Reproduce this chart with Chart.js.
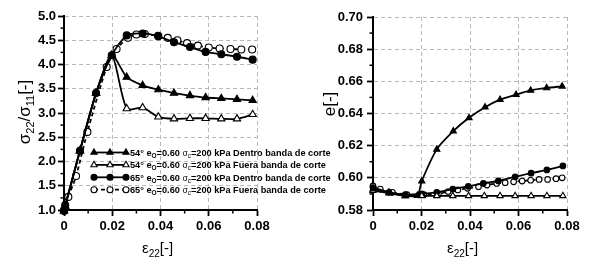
<!DOCTYPE html>
<html>
<head>
<meta charset="utf-8">
<script src="https://cdn.jsdelivr.net/npm/chart.js@4.4.1/dist/chart.umd.min.js"></script>
<style>
  body { margin: 0; background: #fff; }
  #wrap { position: relative; width: 590px; height: 264px; overflow: hidden; }
  canvas { position: absolute; top: 0; }
</style>
</head>
<body>
<div id="wrap">
  <canvas id="ratioChart" width="360" height="264" style="left:0"></canvas>
  <canvas id="voidChart" width="290" height="264" style="left:300px"></canvas>
</div>
<script>
// ---- left panel: sigma22/sigma11 vs strain ----
const r54inX  = [0, 0.0005, 0.0066, 0.0133, 0.0198, 0.026, 0.0326, 0.0391, 0.0456, 0.0522, 0.0587, 0.0652, 0.0717, 0.0782];
const r54inY  = [0.98, 1.08, 2.22, 3.41, 4.19, 3.74, 3.57, 3.48, 3.41, 3.36, 3.32, 3.30, 3.28, 3.26];
const r54outX = [0, 0.0005, 0.0066, 0.0133, 0.0198, 0.026, 0.0326, 0.0391, 0.0456, 0.0522, 0.0587, 0.0652, 0.0717, 0.0782];
const r54outY = [0.98, 1.08, 2.22, 3.41, 4.19, 3.09, 3.11, 2.92, 2.88, 2.89, 2.89, 2.88, 2.88, 2.97];
const r65inX  = [0, 0.0005, 0.0066, 0.0133, 0.0198, 0.026, 0.0326, 0.0391, 0.0456, 0.0522, 0.0587, 0.0652, 0.0717, 0.0782];
const r65inY  = [0.98, 1.1, 2.22, 3.41, 4.19, 4.60, 4.64, 4.58, 4.46, 4.36, 4.26, 4.21, 4.16, 4.10];
const r65outX = [0, 0.0018, 0.005, 0.0097, 0.0177, 0.0218, 0.0265, 0.030, 0.0335, 0.039, 0.043, 0.047, 0.051, 0.0555, 0.060, 0.0645, 0.069, 0.0735, 0.078];
const r65outY = [1.0, 1.27, 1.70, 2.61, 3.95, 4.32, 4.55, 4.62, 4.63, 4.59, 4.55, 4.50, 4.44, 4.39, 4.35, 4.33, 4.32, 4.31, 4.31];

// ---- right panel: void ratio e vs strain ----
const e54inX  = [0, 0.0066, 0.0133, 0.0183, 0.0201, 0.0263, 0.0331, 0.0396, 0.0462, 0.0524, 0.059, 0.065, 0.0716, 0.078];
const e54inY  = [0.593, 0.591, 0.5888, 0.589, 0.598, 0.6177, 0.629, 0.6373, 0.6439, 0.6486, 0.6517, 0.6544, 0.6559, 0.6569];
const e54outX = [0, 0.0066, 0.0133, 0.0201, 0.0263, 0.0329, 0.0394, 0.0459, 0.0524, 0.0586, 0.0652, 0.0717, 0.0783];
const e54outY = [0.592, 0.5905, 0.5888, 0.5888, 0.5888, 0.5888, 0.5888, 0.5888, 0.5888, 0.5888, 0.5888, 0.5888, 0.5888];
const e65inX  = [0, 0.0066, 0.0133, 0.0201, 0.0263, 0.0329, 0.0393, 0.0455, 0.0517, 0.0586, 0.0652, 0.0717, 0.0783];
const e65inY  = [0.594, 0.591, 0.5895, 0.590, 0.591, 0.593, 0.5947, 0.5965, 0.5981, 0.6006, 0.6029, 0.6049, 0.6074];
const e65outX = [0, 0.003, 0.008, 0.014, 0.021, 0.027, 0.031, 0.035, 0.039, 0.0435, 0.047, 0.051, 0.0545, 0.058, 0.0615, 0.065, 0.0685, 0.072, 0.0755, 0.078];
const e65outY = [0.595, 0.593, 0.591, 0.5895, 0.5895, 0.590, 0.5915, 0.5925, 0.5935, 0.5945, 0.5955, 0.5965, 0.597, 0.5975, 0.598, 0.5985, 0.599, 0.599, 0.5995, 0.600];

const seriesLabels = ['Dentro banda de corte', 'Fuera banda de corte', 'Dentro banda de corte', 'Fuera banda de corte'];
const seriesAngles = ['54°', '54°', '65°', '65°'];

const xTicks = [0, 0.02, 0.04, 0.06, 0.08];
const FONT = "'Liberation Sans', Arial, sans-serif";

function pts(xs, ys) {
    return xs.map((x, i) => ({ x: x, y: ys[i] }));
}

// common dataset styles
function makeSets(data, big) {
    const styles = [
        { pointStyle: 'triangle', fill: '#000', dash: [] },
        { pointStyle: 'triangle', fill: '#fff', dash: [] },
        { pointStyle: 'circle', fill: '#000', dash: [] },
        { pointStyle: 'circle', fill: '#fff', dash: [4, 3] }
    ];
    return data.map((d, i) => ({
        label: seriesAngles[i] + ' ' + seriesLabels[i],
        data: d,
        borderColor: '#000',
        borderWidth: 1.8,
        borderDash: styles[i].dash,
        pointStyle: styles[i].pointStyle,
        pointBackgroundColor: styles[i].fill,
        pointBorderColor: '#000',
        pointBorderWidth: 1.1,
        pointRadius: styles[i].pointStyle === 'triangle' ? (big ? 4.2 : 3.6) : (big ? 3.5 : 2.8),
        tension: 0.25,
        clip: false
    }));
}

// draw a run of text pieces, some of them as subscripts
function drawRich(ctx, parts, x, y, align) {
    let total = 0;
    parts.forEach(p => {
        ctx.font = (p.bold ? 'bold ' : '') + p.size + 'px ' + FONT;
        p.w = ctx.measureText(p.t).width;
        total += p.w;
    });
    let cx = align === 'center' ? x - total / 2 : x;
    ctx.textBaseline = 'alphabetic';
    ctx.textAlign = 'left';
    parts.forEach(p => {
        ctx.font = (p.bold ? 'bold ' : '') + p.size + 'px ' + FONT;
        ctx.fillText(p.t, cx, y + (p.dy || 0));
        cx += p.w;
    });
}

// minor ticks + axis titles
const decorPlugin = {
    id: 'decor',
    afterDraw(chart, args, opts) {
        const ctx = chart.ctx;
        const xs = chart.scales.x, ys = chart.scales.y;
        ctx.save();
        ctx.strokeStyle = '#000';
        ctx.lineWidth = 1.5;
        // minor ticks
        for (let v = xs.min + opts.xMinor; v < xs.max; v += opts.xMinor * 2) {
            const px = xs.getPixelForValue(v);
            ctx.beginPath();
            ctx.moveTo(px, ys.bottom);
            ctx.lineTo(px, ys.bottom + 3.5);
            ctx.stroke();
        }
        for (let v = ys.min + opts.yMinor; v < ys.max; v += opts.yMinor * 2) {
            const py = ys.getPixelForValue(v);
            ctx.beginPath();
            ctx.moveTo(xs.left, py);
            ctx.lineTo(xs.left - 3.5, py);
            ctx.stroke();
        }
        ctx.fillStyle = '#000';
        // x title
        drawRich(ctx, opts.xTitle, opts.xTitlePos[0], opts.xTitlePos[1], 'left');
        // y title, rotated
        ctx.translate(opts.yTitlePos[0], opts.yTitlePos[1]);
        ctx.rotate(-Math.PI / 2);
        drawRich(ctx, opts.yTitle, 0, 0, 'center');
        ctx.restore();
    }
};

// legend drawn inside left panel, overflowing to the right
const legendPlugin = {
    id: 'bandLegend',
    afterDraw(chart, args, opts) {
        if (!opts.show) return;
        const ctx = chart.ctx;
        ctx.save();
        chart.data.datasets.forEach((ds, i) => {
            const y = opts.top + i * opts.rowGap;
            ctx.strokeStyle = '#000';
            ctx.lineWidth = 1.8;
            ctx.setLineDash(ds.borderDash);
            ctx.beginPath();
            ctx.moveTo(opts.x0, y);
            ctx.lineTo(opts.x1, y);
            ctx.stroke();
            ctx.setLineDash([]);
            [opts.x0, (opts.x0 + opts.x1) / 2, opts.x1].forEach(mx => {
                ctx.fillStyle = ds.pointBackgroundColor;
                ctx.strokeStyle = '#000';
                ctx.lineWidth = 1.1;
                Chart.helpers.drawPoint(ctx, {
                    pointStyle: ds.pointStyle,
                    radius: ds.pointStyle === 'triangle' ? 3.6 : 3,
                    rotation: 0,
                    borderWidth: 1.1
                }, mx, y);
            });
            ctx.fillStyle = '#000';
            drawRich(ctx, [
                { t: seriesAngles[i] + ' e', size: 9.2, bold: true },
                { t: 'O', size: 6.5, bold: true, dy: 2 },
                { t: '=0.60 ', size: 9.2, bold: true },
                { t: 'σ', size: 8.5, bold: false },
                { t: 'c', size: 6.5, bold: false, dy: 2 },
                { t: '=200 kPa ' + seriesLabels[i], size: 9.2, bold: true }
            ], opts.x1 + 4, y + 3.3, 'left');
        });
        ctx.restore();
    }
};

function axisOptions(yMin, yMax, yStep, yDigits, yPad) {
    const tickFont = { family: FONT, size: 13, weight: 'bold' };
    return {
        x: {
            type: 'linear',
            min: 0, max: 0.08,
            afterBuildTicks: s => { s.ticks = xTicks.map(v => ({ value: v })); },
            afterFit: s => { s.height = 54; },
            ticks: {
                color: '#000', font: tickFont, padding: 3,
                maxRotation: 0,
                callback: v => v === 0 ? '0' : v.toFixed(2)
            },
            grid: { color: '#b8b8b8', lineWidth: 1, tickColor: '#000', tickLength: 6, tickWidth: 1.8, tickBorderDash: [] },
            border: { color: '#000', width: 2, dash: [4, 3] }
        },
        y: {
            min: yMin, max: yMax,
            afterFit: s => { s.width = s.chart.options.layout.axisW; },
            ticks: {
                color: '#000', font: tickFont, padding: yPad, stepSize: yStep,
                callback: v => v.toFixed(yDigits)
            },
            grid: { color: '#b8b8b8', lineWidth: 1, tickColor: '#000', tickLength: 6, tickWidth: 1.8, tickBorderDash: [] },
            border: { color: '#000', width: 2, dash: [4, 3] }
        }
    };
}

new Chart(document.getElementById('ratioChart'), {
    type: 'line',
    data: {
        datasets: makeSets([pts(r54inX, r54inY), pts(r54outX, r54outY), pts(r65inX, r65inY), pts(r65outX, r65outY)], true)
    },
    options: {
        responsive: false,
        animation: false,
        devicePixelRatio: 1,
        layout: { padding: { left: 0, right: 103, top: 16, bottom: 0 }, axisW: 64 },
        scales: axisOptions(1, 5, 0.5, 1, 2),
        plugins: {
            legend: { display: false },
            tooltip: { enabled: false },
            decor: {
                xMinor: 0.01, yMinor: 0.25,
                xTitle: [{ t: 'ε', size: 15 }, { t: '22', size: 10, dy: 4 }, { t: '[-]', size: 15 }],
                xTitlePos: [142, 253],
                yTitle: [{ t: 'σ', size: 17 }, { t: '22', size: 11, dy: 4 }, { t: '/σ', size: 17 }, { t: '11', size: 11, dy: 4 }, { t: '[-]', size: 17 }],
                yTitlePos: [30, 112]
            },
            bandLegend: { show: true, x0: 94, x1: 126, top: 152.5, rowGap: 12.4 }
        }
    },
    plugins: [decorPlugin, legendPlugin]
});

new Chart(document.getElementById('voidChart'), {
    type: 'line',
    data: {
        datasets: makeSets([pts(e54inX, e54inY), pts(e54outX, e54outY), pts(e65inX, e65inY), pts(e65outX, e65outY)], false)
    },
    options: {
        responsive: false,
        animation: false,
        devicePixelRatio: 1,
        layout: { padding: { left: 0, right: 23, top: 17, bottom: 0 }, axisW: 73 },
        scales: axisOptions(0.58, 0.70, 0.02, 2, 4),
        plugins: {
            legend: { display: false },
            tooltip: { enabled: false },
            decor: {
                xMinor: 0.01, yMinor: 0.01,
                xTitle: [{ t: 'ε', size: 15 }, { t: '22', size: 10, dy: 4 }, { t: '[-]', size: 15 }],
                xTitlePos: [147, 253],
                yTitle: [{ t: 'e', size: 17 }, { t: '[-]', size: 17 }],
                yTitlePos: [35, 104]
            },
            bandLegend: { show: false }
        }
    },
    plugins: [decorPlugin, legendPlugin]
});
</script>
</body>
</html>
